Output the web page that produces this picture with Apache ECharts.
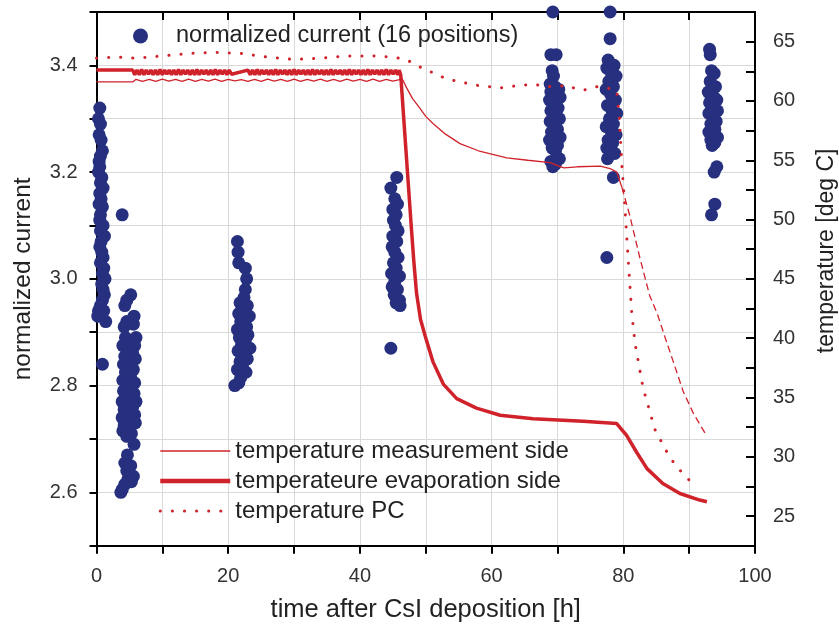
<!DOCTYPE html>
<html>
<head>
<meta charset="utf-8">
<script src="https://cdn.jsdelivr.net/npm/echarts@6/dist/echarts.min.js"></script>
<style>
html,body{margin:0;padding:0;background:#fff;}
#chart{width:839px;height:626px;}
</style>
</head>
<body>
<div id="chart"></div>
<script>
// ---- Data ----
const xTicks = [0, 20, 40, 60, 80, 100];
const leftTicks = [2.6, 2.8, 3.0, 3.2, 3.4];
const rightTicks = [25, 30, 35, 40, 45, 50, 55, 60, 65];

// normalized current (16 positions): [time h, normalized current]
const normalizedCurrent = [
  // cluster ~0-1.5 h
  [0.5,3.32],[0.3,3.30],[0.6,3.29],[0.4,3.27],[0.7,3.26],[0.9,3.24],[0.6,3.23],[0.4,3.22],[0.5,3.21],[0.3,3.20],
  [0.8,3.19],[0.6,3.18],[1.0,3.17],[0.5,3.16],[0.7,3.15],[0.4,3.14],[0.9,3.135],[0.6,3.12],[0.5,3.11],[1.0,3.10],
  [0.6,3.09],[1.2,3.08],[0.7,3.07],[0.5,3.06],[0.8,3.05],[1.0,3.04],[0.6,3.03],[1.1,3.02],[0.9,3.01],[1.3,3.00],
  [0.8,2.99],[1.0,2.98],[1.2,2.97],[0.9,2.96],[0.6,2.95],[1.1,2.94],[0.3,2.94],[1.4,2.92],[0.2,2.93],[0.9,2.84],
  // cluster ~3.5-6.3 h
  [3.9,3.12],[5.2,2.97],[4.3,2.95],[4.6,2.96],[5.7,2.93],[4.6,2.92],[4.2,2.91],[5.6,2.915],[6.0,2.89],[4.4,2.89],
  [5.0,2.885],[5.8,2.875],[4.0,2.875],[4.8,2.87],[5.5,2.86],[4.3,2.855],[5.9,2.85],[4.1,2.84],[5.0,2.84],[5.6,2.83],
  [4.4,2.825],[5.2,2.815],[4.0,2.81],[5.8,2.805],[4.6,2.80],[5.3,2.795],[4.1,2.79],[5.7,2.785],[4.5,2.78],[5.0,2.775],
  [6.0,2.77],[3.9,2.77],[4.7,2.765],[5.5,2.76],[4.2,2.755],[5.1,2.75],[5.8,2.745],[3.9,2.74],[4.6,2.735],[5.4,2.73],
  [4.2,2.725],[5.9,2.73],[4.9,2.72],[4.0,2.715],[5.3,2.71],[4.6,2.705],[5.7,2.69],[4.7,2.67],[4.3,2.655],[5.2,2.65],
  [4.6,2.64],[5.6,2.63],[4.8,2.625],[5.3,2.62],[4.3,2.615],[3.9,2.605],[3.7,2.60],
  // cluster ~21-23.5 h
  [21.4,3.07],[21.5,3.05],[21.6,3.03],[22.6,3.02],[22.8,3.00],[22.6,2.98],[22.4,2.965],[21.8,2.955],[22.9,2.95],[22.1,2.94],
  [21.6,2.935],[23.2,2.93],[22.5,2.925],[21.9,2.92],[22.8,2.91],[21.4,2.905],[22.3,2.90],[23.0,2.895],[21.7,2.89],[22.6,2.885],
  [22.0,2.875],[23.3,2.87],[21.5,2.865],[22.4,2.86],[22.9,2.85],[21.8,2.845],[22.2,2.835],[21.4,2.83],[22.7,2.825],[21.9,2.815],
  [21.6,2.805],[21.0,2.80],
  // cluster ~45 h
  [45.6,3.19],[44.7,3.17],[45.3,3.15],[45.7,3.14],[45.0,3.13],[45.5,3.12],[45.1,3.11],[45.4,3.10],[45.8,3.09],[45.0,3.08],
  [45.6,3.07],[44.9,3.06],[45.3,3.05],[45.8,3.04],[45.1,3.03],[45.5,3.02],[44.8,3.01],[46.0,3.005],[45.3,2.995],[44.9,2.985],
  [45.7,2.98],[45.2,2.97],[46.0,2.96],[45.5,2.955],[46.1,2.95],[44.7,2.87],
  // cluster ~69.5 h
  [69.3,3.50],[69.0,3.42],[69.8,3.42],[69.2,3.39],[69.4,3.38],[68.9,3.365],[69.6,3.36],[70.2,3.355],[69.0,3.35],[69.8,3.345],
  [70.4,3.34],[68.8,3.335],[69.5,3.33],[70.1,3.32],[69.0,3.315],[69.7,3.31],[70.3,3.30],[68.9,3.295],[69.5,3.29],[70.0,3.28],
  [69.1,3.275],[69.8,3.27],[70.4,3.265],[68.8,3.26],[69.4,3.255],[70.0,3.25],[69.2,3.245],[69.7,3.24],[69.0,3.22],[69.7,3.215],
  [69.3,3.21],[70.3,3.225],
  // cluster ~78 h
  [78.0,3.50],[78.0,3.45],[77.7,3.41],[78.6,3.40],[77.5,3.395],[78.2,3.385],[78.9,3.38],[77.8,3.37],[78.5,3.36],[77.4,3.355],
  [78.1,3.345],[78.8,3.335],[77.6,3.325],[78.3,3.315],[79.0,3.31],[77.9,3.30],[78.5,3.29],[77.4,3.285],[78.2,3.275],[78.9,3.27],
  [77.7,3.26],[78.4,3.255],[77.5,3.245],[78.1,3.24],[78.7,3.235],[77.6,3.225],[78.5,3.19],[77.5,3.04],
  // cluster ~93.5 h
  [93.2,3.42],[93.1,3.43],[93.4,3.39],[93.8,3.385],[93.2,3.37],[94.0,3.36],[93.5,3.355],[92.9,3.35],[93.8,3.34],[94.2,3.335],
  [93.1,3.33],[93.6,3.32],[94.3,3.315],[93.0,3.31],[93.7,3.30],[94.1,3.295],[93.3,3.29],[93.9,3.28],[93.0,3.275],[93.6,3.27],
  [94.3,3.265],[93.3,3.26],[93.9,3.255],[93.5,3.25],[94.2,3.21],[93.8,3.20],[93.9,3.14],[93.4,3.12]
];

// temperature measurement side [time h, deg C]
const measurementSide = [
  [0,61.6],[5.5,61.6],[6,61.82],[7,61.66],[8,61.82],[9,61.66],[10,61.83],[11,61.67],[12,61.82],[13,61.66],
  [14,61.83],[15,61.66],[16,61.82],[17,61.67],[18,61.83],[19,61.66],[20,61.82],[21,61.7],[22,61.8],[23,61.66],
  [24,61.82],[25,61.66],[26,61.83],[27,61.67],[28,61.82],[29,61.66],[30,61.83],[31,61.66],[32,61.82],[33,61.67],
  [34,61.83],[35,61.66],[36,61.82],[37,61.66],[38,61.83],[39,61.67],[40,61.82],[41,61.66],[42,61.83],[43,61.66],
  [44,61.82],[45,61.67],[46.0,61.8],[46.4,61.9],[47.1,61.1],[48.0,60.2],[49.1,59.4],[50.0,58.7],[51.1,58.1],[53.0,57.2],
  [55.2,56.4],[58.0,55.8],[62.3,55.2],[65.5,55.0],[68.9,54.8],[70.2,54.5],[71.0,54.35],[73.0,54.45],[76.5,54.5],[78.0,54.3],
  [79.0,54.0],[79.8,52.7]
];
// continuation of the measurement-side curve after ~80 h (drawn dashed in the reference)
const measurementSideCooling = [
  [79.8,52.7],[81.0,50.3],[82.5,46.8],[84.0,43.6],[85.2,42.0],[86.2,40.3],[87.6,38.0],[89.1,35.5],[90.7,33.6],[92.4,32.0]
];

// temperateure evaporation side [time h, deg C]
const evaporationSide = [
  [0,62.6],[5.5,62.6],
  [5.8,62.2],[6.15,62.6],[6.5,62.2],[6.85,62.65],[7.2,62.2],[7.55,62.6],[7.9,62.25],[8.25,62.6],[8.6,62.2],[8.95,62.6],
  [9.3,62.2],[9.65,62.65],[10.0,62.2],[10.35,62.6],[10.7,62.25],[11.05,62.6],[11.4,62.2],[11.75,62.6],[12.1,62.2],[12.45,62.65],
  [12.8,62.2],[13.15,62.6],[13.5,62.25],[13.85,62.6],[14.2,62.2],[14.55,62.6],[14.9,62.2],[15.25,62.65],[15.6,62.2],[15.95,62.6],
  [16.3,62.25],[16.65,62.6],[17.0,62.2],[17.35,62.6],[17.7,62.2],[18.05,62.65],[18.4,62.2],[18.75,62.6],[19.1,62.25],[19.45,62.6],
  [19.8,62.2],[20.15,62.6],[20.5,62.25],
  [23.0,62.6],
  [23.35,62.2],[23.7,62.6],[24.05,62.2],[24.4,62.65],[24.75,62.2],[25.1,62.6],[25.45,62.25],[25.8,62.6],[26.15,62.2],[26.5,62.6],
  [26.85,62.2],[27.2,62.65],[27.55,62.2],[27.9,62.6],[28.25,62.25],[28.6,62.6],[28.95,62.2],[29.3,62.6],[29.65,62.2],[30.0,62.65],
  [30.35,62.2],[30.7,62.6],[31.05,62.25],[31.4,62.6],[31.75,62.2],[32.1,62.6],[32.45,62.2],[32.8,62.65],[33.15,62.2],[33.5,62.6],
  [33.85,62.25],[34.2,62.6],[34.55,62.2],[34.9,62.6],[35.25,62.2],[35.6,62.65],[35.95,62.2],[36.3,62.6],[36.65,62.25],[37.0,62.6],
  [37.35,62.2],[37.7,62.6],[38.05,62.2],[38.4,62.65],[38.75,62.2],[39.1,62.6],[39.45,62.25],[39.8,62.6],[40.15,62.2],[40.5,62.6],
  [40.85,62.2],[41.2,62.65],[41.55,62.2],[41.9,62.6],[42.25,62.25],[42.6,62.6],[42.95,62.2],[43.3,62.6],[43.65,62.2],[44.0,62.65],
  [44.35,62.2],[44.7,62.6],[45.05,62.25],[45.4,62.6],[45.75,62.2],
  [45.95,62.6],[46.2,62.2],[46.6,59.0],[47.0,55.8],[47.4,52.6],[47.8,49.4],[48.2,46.4],[48.6,43.8],[49.2,41.6],[49.9,40.2],
  [51.1,38.0],[52.7,36.1],[54.7,34.9],[57.7,34.1],[61.3,33.5],[66.3,33.2],[73.9,33.0],[79.0,32.8],[80.5,31.8],[82.0,30.4],
  [83.6,29.0],[86.0,27.75],[88.6,26.9],[91.6,26.35],[92.7,26.2]
];

// temperature PC [time h, deg C]
const temperaturePC = [
  [0,63.6],[3,63.7],[6,63.6],[10,63.8],[14,64.0],[18,64.1],[22,64.0],[26,63.7],[30,63.5],[34,63.6],
  [38,63.8],[42,63.8],[45,63.7],[47,63.5],[49,62.9],[50.6,62.5],[53,61.9],[55.2,61.6],[58,61.3],[61.3,61.1],
  [64,61.3],[66.3,61.4],[69,61.2],[71.4,61.3],[73.5,60.9],[74.9,61.0],[76,61.2],[77.5,61.1],[79.0,60.9],[79.4,58.5],
  [79.8,54.4],[80.2,51.4],[80.5,48.7],[80.9,45.3],[81.3,42.0],[81.8,39.5],[83.0,35.8],[84.8,32.3],[87.1,29.9],[89.0,28.6],
  [90.6,27.7]
];

// ---- Chart ----
const FONT = '"Liberation Sans", Arial, sans-serif';
const RED = '#d0222b';
const NAVY = '#26307f';
const PC_DOTS = [0.1, 12];
const chart = echarts.init(document.getElementById('chart'), null, {renderer: 'canvas'});

const option = {
  backgroundColor: '#ffffff',
  animation: false,
  grid: {left: 96.5, right: 84, top: 12, bottom: 80.3, containLabel: false, outerBoundsMode: 'none'},
  legend: [
    {
      data: ['normalized current (16 positions)'],
      left: 128, top: 19,
      icon: 'circle', itemWidth: 15, itemHeight: 15,
      itemStyle: {opacity: 1},
      textStyle: {fontFamily: FONT, fontSize: 23.5, color: '#222', padding: [0, 0, 0, 23]},
      selectedMode: false
    },
    {
      data: [
        {name: 'temperature measurement side', lineStyle: {width: 1.3}},
        {name: 'temperateure evaporation side', lineStyle: {width: 4.5}},
        {name: 'temperature PC', lineStyle: {width: 3, type: PC_DOTS, cap: 'round'}}
      ],
      orient: 'vertical',
      left: 153, top: 434,
      itemWidth: 70, itemHeight: 14, itemGap: 6,
      itemStyle: {color: 'rgba(0,0,0,0)', opacity: 0, borderWidth: 0},
      textStyle: {fontFamily: FONT, fontSize: 24, color: '#222', lineHeight: 24},
      selectedMode: false
    }
  ],
  xAxis: [
    {
      type: 'value', min: 0, max: 100, interval: 10,
      name: 'time after CsI deposition [h]', nameLocation: 'middle', nameGap: 51,
      nameTextStyle: {fontFamily: FONT, fontSize: 25.5, color: '#222'},
      axisLine: {show: true, onZero: false, lineStyle: {color: '#000', width: 2}},
      axisTick: {show: true, inside: false, length: 8, lineStyle: {color: '#000', width: 2}},
      axisLabel: {fontFamily: FONT, fontSize: 20, color: '#333', margin: 21,
        formatter: v => (xTicks.indexOf(Math.round(v)) >= 0 ? String(Math.round(v)) : '')},
      splitLine: {show: true, lineStyle: {color: '#d9d9d9', width: 1}}
    },
    {
      type: 'value', min: 0, max: 100, interval: 10, position: 'top',
      axisLine: {show: true, onZero: false, lineStyle: {color: '#000', width: 2}},
      axisTick: {show: true, inside: true, length: 8, lineStyle: {color: '#000', width: 2}},
      axisLabel: {show: false},
      splitLine: {show: false}
    }
  ],
  yAxis: [
    {
      type: 'value', min: 2.5, max: 3.5, interval: 0.1, position: 'left',
      name: 'normalized current', nameLocation: 'middle', nameGap: 61,
      nameTextStyle: {fontFamily: FONT, fontSize: 24.5, color: '#222'},
      axisLine: {show: true, onZero: false, lineStyle: {color: '#000', width: 2}},
      axisTick: {show: true, inside: false, length: 7, lineStyle: {color: '#000', width: 2}},
      axisLabel: {fontFamily: FONT, fontSize: 20, color: '#333', margin: 19,
        formatter: v => {
          const r = Math.round(v * 10) / 10;
          return leftTicks.some(t => Math.abs(t - r) < 1e-6) ? r.toFixed(1) : '';
        }},
      splitLine: {show: true, lineStyle: {color: '#d9d9d9', width: 1}}
    },
    {
      type: 'value', min: 22.5, max: 67.5, interval: 2.5, position: 'right',
      name: 'temperature [deg C]', nameLocation: 'middle', nameGap: 60, nameRotate: 90,
      nameTextStyle: {fontFamily: FONT, fontSize: 23, color: '#222', padding: [0, 0, 0, 56]},
      axisLine: {show: true, onZero: false, lineStyle: {color: '#000', width: 2}},
      axisTick: {show: true, inside: true, length: 9, lineStyle: {color: '#000', width: 2}},
      axisLabel: {fontFamily: FONT, fontSize: 20, color: '#333', margin: 18,
        formatter: v => {
          const r = Math.round(v * 10) / 10;
          return rightTicks.indexOf(r) >= 0 ? String(r) : '';
        }},
      splitLine: {show: false}
    }
  ],
  series: [
    {
      name: 'normalized current (16 positions)',
      type: 'scatter', xAxisIndex: 0, yAxisIndex: 0,
      data: normalizedCurrent,
      symbol: 'circle', symbolSize: 13,
      itemStyle: {color: NAVY, opacity: 1},
      z: 2
    },
    {
      name: 'temperature measurement side',
      type: 'line', xAxisIndex: 0, yAxisIndex: 1,
      data: measurementSide,
      symbol: 'none', showSymbol: false,
      lineStyle: {color: RED, width: 1.3},
      itemStyle: {color: RED},
      z: 4
    },
    {
      name: 'measurement side cooling',
      type: 'line', xAxisIndex: 0, yAxisIndex: 1,
      data: measurementSideCooling,
      symbol: 'none', showSymbol: false,
      lineStyle: {color: RED, width: 1.3, type: [7, 4]},
      itemStyle: {color: RED},
      z: 4
    },
    {
      name: 'temperateure evaporation side',
      type: 'line', xAxisIndex: 0, yAxisIndex: 1,
      data: evaporationSide,
      symbol: 'none', showSymbol: false,
      lineStyle: {color: RED, width: 3.5},
      itemStyle: {color: RED},
      z: 5
    },
    {
      name: 'temperature PC',
      type: 'line', xAxisIndex: 0, yAxisIndex: 1,
      data: temperaturePC,
      symbol: 'none', showSymbol: false,
      lineStyle: {color: RED, width: 3, type: PC_DOTS, cap: 'round'},
      itemStyle: {color: RED},
      z: 4
    }
  ]
};
chart.setOption(option);
</script>
</body>
</html>
